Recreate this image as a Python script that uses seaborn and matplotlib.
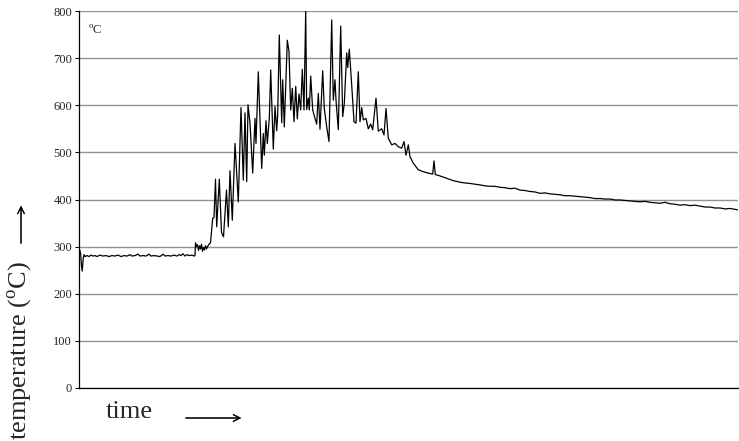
import pandas as pd
import numpy as np
import matplotlib.pyplot as plt
import seaborn as sns

# time in arbitrary units (no scale shown on the chart), temperature in degC
time = [0, 0.8, 1.6, 2.4, 3.2, 4.2, 5, 6, 8, 10, 12, 14, 16, 18, 21, 24, 27, 30, 33, 36, 39, 42,
        45, 48, 51, 53, 56, 59, 61, 64, 67, 70, 72, 75, 78, 81, 84, 86, 89, 92, 95, 98, 100, 102,
        104, 106, 108, 110, 113, 115, 116,
        116.5, 117.5, 118.5, 119.5, 120.5, 121.5, 122.5, 123.5, 124.5, 125.5, 126.5, 127.5, 128.5,
        130, 131.5,
        133.7, 135, 136.5, 137.7, 140.3, 142.5, 144.5, 147.5, 149.3, 151, 153.3, 156, 159.3, 162,
        164.3, 166, 167.7, 169, 171, 173.7, 176, 177, 179.3, 182.7, 184.3, 185.3, 187, 188.3,
        190.3, 191.7, 194.3, 196, 197.7, 198.7, 200.3, 202.7, 203.7, 205.3, 208.3, 210, 211.7,
        213.3, 215, 216.7, 218.3, 220, 221.7, 223.3, 225, 226.7, 227.7, 229.3, 230.3, 231.7,
        233.7, 236, 237.7, 239.3, 241, 243.7, 245.3, 247.7, 250, 252.7, 254.3, 256, 257, 259.3,
        261.7, 263.7, 265.3, 267.7, 268.7, 270.3, 272.7, 275, 277, 279.3, 281, 282.7, 284.3, 287,
        289.3, 291.7, 293.7, 297, 299.3, 302.7, 305, 307, 309.3, 312.7, 316, 319.3, 322.7, 325,
        327, 329.3, 331, 334.3, 339.3, 344.3, 349.3, 353.7, 355, 356.3, 361, 367.7, 374.3, 382.7,
        391,
        401, 406, 411, 416, 421, 426, 431, 436, 441, 446, 451, 456, 461, 466, 471, 476, 481, 486,
        491, 496, 501, 506, 511, 516, 521, 526, 531, 536, 541, 546, 551, 556, 561, 566, 571, 576,
        581, 586, 591, 596, 601, 606, 611, 616, 621, 626, 631, 636, 641, 646, 651, 656, 659]

temperature = [280, 293, 285, 262, 248, 275, 283, 279, 281, 279, 282, 280, 281, 279, 282, 280, 281,
               279, 281, 280, 282, 279, 281, 280, 283, 280, 281, 284, 280, 281, 280, 284, 280, 281,
               280, 279, 284, 280, 281, 280, 282, 280, 283, 281, 285, 280, 283, 281, 282, 280, 281,
               308, 300, 304, 292, 302, 295, 305, 290, 298, 293, 302, 295, 300, 305, 308,
               360, 362, 443, 342, 443, 330, 321, 420, 342, 461, 356, 519, 395, 595,
               441, 584, 438, 601, 562, 456, 572, 519, 671, 466, 540, 494, 567, 519,
               572, 675, 507, 597, 546, 580, 749, 563, 654, 554, 738, 714, 590,
               636, 565, 640, 571, 624, 590, 676, 590, 800, 591, 615, 590, 662,
               590, 572, 560, 625, 549, 673, 593, 554, 523, 781, 611, 654, 611, 548,
               768, 576, 604, 711, 680, 719, 643, 565, 562, 671, 565, 595, 569, 572,
               550, 560, 548, 615, 545, 550, 537, 593, 530, 516, 519, 512, 509, 523,
               494, 516, 491, 477, 463, 459, 456, 454, 482, 453, 450, 445, 440, 436,
               434,
               431, 429, 428, 428, 426, 425, 423, 424, 420, 419, 417, 416, 413, 414, 412, 411, 410, 408,
               408, 407, 406, 405, 404, 402, 402, 401, 401, 399, 399, 398, 397, 396, 395, 396, 394, 393,
               392, 394, 391, 390, 388, 389, 387, 388, 386, 384, 384, 382, 382, 380, 381, 379, 378]

y_ticks = [0, 100, 200, 300, 400, 500, 600, 700, 800]

df = pd.DataFrame({"time": time, "temperature": temperature})

sns.set_theme(style="white")
plt.rcParams["font.family"] = ["Liberation Serif", "DejaVu Serif"]
plt.rcParams["mathtext.fontset"] = "custom"
plt.rcParams["mathtext.rm"] = "Liberation Serif"

fig = plt.figure(figsize=(7.39, 4.41), dpi=100)
ax = fig.add_axes([79 / 739, 53 / 441, 659 / 739, 377 / 441])

sns.lineplot(data=df, x="time", y="temperature", estimator=None, sort=False,
             color="black", linewidth=0.9, ax=ax)

ax.set_xlim(0, 659)
ax.set_ylim(0, 800)
ax.set_yticks(y_ticks)
ax.set_yticklabels([str(v) for v in y_ticks], fontsize=9)
ax.set_xticks([])
ax.set_xlabel("")
ax.set_ylabel("")
ax.yaxis.grid(True, color="#939393", linewidth=1.0)
ax.set_axisbelow(True)
ax.tick_params(axis="y", direction="out", length=3, width=0.8, color="black", pad=2, left=True)
for side in ["top", "right"]:
    ax.spines[side].set_visible(False)
for side in ["left", "bottom"]:
    ax.spines[side].set_color("black")
    ax.spines[side].set_linewidth(0.9)

# unit note in the upper-left corner of the plot area
ax.text(9, 758, r"$^{\rm o}$C", fontsize=9, ha="left", va="center")

fig.text(20 / 739, 0.002, r"temperature ($^{\rm o}$C)", rotation=90,
         fontsize=19, ha="center", va="bottom")
fig.text(106 / 739, 1 - 412 / 441, "time", fontsize=19, ha="left", va="center")

fig.add_artist(plt.annotate("", xy=(21 / 739, 1 - 203 / 441), xytext=(21 / 739, 1 - 246 / 441),
                            xycoords="figure fraction",
                            arrowprops=dict(arrowstyle="->", color="black", lw=0.8)))
fig.add_artist(plt.annotate("", xy=(244 / 739, 1 - 418 / 441), xytext=(183 / 739, 1 - 418 / 441),
                            xycoords="figure fraction",
                            arrowprops=dict(arrowstyle="->", color="black", lw=0.8)))

fig.savefig("out.png", dpi=100)
